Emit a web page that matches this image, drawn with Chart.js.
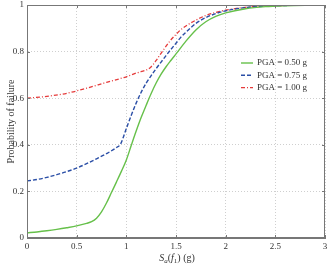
<!DOCTYPE html>
<html><head><meta charset="utf-8">
<script src="https://cdn.jsdelivr.net/npm/chart.js@4"></script>
<style>html,body{margin:0;padding:0;background:#fff}#wrap{width:330px;height:266px}</style>
</head><body><div id="wrap"><canvas id="c" width="330" height="266"></canvas></div>
<script>
const seriesLabels = ["PGA = 0.50 g", "PGA = 0.75 g", "PGA = 1.00 g"];
const xGreen = [0, 0.1, 0.2, 0.3, 0.4, 0.5, 0.6, 0.65, 0.7, 0.75, 0.8, 0.85, 0.9, 0.95, 1.0, 1.05, 1.1, 1.15, 1.2, 1.25, 1.3, 1.35, 1.4, 1.45, 1.5, 1.6, 1.7, 1.8, 1.9, 2.0, 2.2, 2.4, 2.6, 2.8, 3.0];
const yGreen = [0.022, 0.026, 0.031, 0.037, 0.044, 0.052, 0.063, 0.07, 0.085, 0.112, 0.15, 0.195, 0.24, 0.286, 0.335, 0.398, 0.46, 0.518, 0.57, 0.62, 0.665, 0.703, 0.735, 0.763, 0.79, 0.845, 0.893, 0.928, 0.951, 0.966, 0.984, 0.993, 0.997, 0.999, 1.0];
const xBlue = [0, 0.1, 0.2, 0.3, 0.4, 0.5, 0.6, 0.7, 0.8, 0.9, 0.94, 1.0, 1.05, 1.1, 1.15, 1.2, 1.25, 1.3, 1.35, 1.4, 1.45, 1.5, 1.55, 1.6, 1.7, 1.8, 1.9, 2.0, 2.2, 2.4, 2.6, 2.8, 3.0];
const yBlue = [0.245, 0.251, 0.26, 0.272, 0.285, 0.3, 0.319, 0.34, 0.362, 0.388, 0.402, 0.47, 0.527, 0.58, 0.626, 0.665, 0.697, 0.727, 0.755, 0.783, 0.81, 0.836, 0.862, 0.883, 0.921, 0.946, 0.963, 0.975, 0.989, 0.995, 0.998, 0.999, 1.0];
const xRed = [0, 0.2, 0.4, 0.6, 0.8, 1.0, 1.1, 1.24, 1.3, 1.34, 1.4, 1.44, 1.5, 1.54, 1.6, 1.7, 1.8, 1.9, 2.0, 2.2, 2.4, 2.6, 2.8, 3.0];
const yRed = [0.6, 0.608, 0.621, 0.643, 0.668, 0.692, 0.708, 0.731, 0.762, 0.787, 0.823, 0.846, 0.874, 0.891, 0.91, 0.935, 0.955, 0.968, 0.978, 0.99, 0.996, 0.998, 0.999, 1.0];
const xTicks = [0, 0.5, 1, 1.5, 2, 2.5, 3];
const yTicks = [0, 0.2, 0.4, 0.6, 0.8, 1];

const pts = (xs, ys) => xs.map((x, i) => ({x: x, y: ys[i]}));
const FONT = "'Liberation Serif', 'DejaVu Serif', serif";

const extras = {
  id: 'extras',
  afterDraw(chart) {
    const ctx = chart.ctx, a = chart.chartArea;
    const sx = chart.scales.x, sy = chart.scales.y;
    ctx.save();
    ctx.strokeStyle = '#777'; ctx.lineWidth = 1;
    ctx.strokeRect(Math.round(a.left) + 0.5, Math.round(a.top) + 0.5, Math.round(a.right - a.left) - 1, Math.round(a.bottom - a.top) - 1);
    ctx.beginPath();
    xTicks.forEach(v => {
      const px = Math.round(sx.getPixelForValue(v)) + 0.5;
      ctx.moveTo(px, a.bottom); ctx.lineTo(px, a.bottom - 3);
      ctx.moveTo(px, a.top); ctx.lineTo(px, a.top + 3);
    });
    yTicks.forEach(v => {
      const py = Math.round(sy.getPixelForValue(v)) + 0.5;
      ctx.moveTo(a.left, py); ctx.lineTo(a.left + 3, py);
      ctx.moveTo(a.right, py); ctx.lineTo(a.right - 3, py);
    });
    ctx.stroke();
    const ds = chart.data.datasets;
    const lx = 241, ly = 63, dy = 12.3;
    ds.forEach((d, i) => {
      const y = ly + i * dy;
      ctx.beginPath();
      ctx.setLineDash(d.borderDash || []);
      ctx.strokeStyle = d.borderColor; ctx.lineWidth = d.borderWidth;
      ctx.moveTo(lx, y); ctx.lineTo(lx + 12, y); ctx.stroke();
      ctx.setLineDash([]);
      ctx.fillStyle = '#333'; ctx.font = "9px " + FONT;
      ctx.textBaseline = 'middle'; ctx.textAlign = 'left';
      ctx.fillText(d.label, lx + 16, y);
    });
    ctx.save();
    ctx.translate(11, (a.top + a.bottom) / 2);
    ctx.rotate(-Math.PI / 2);
    ctx.font = "10px " + FONT; ctx.fillStyle = '#333';
    ctx.textAlign = 'center'; ctx.textBaseline = 'middle';
    ctx.fillText('Probability of failure', 0, 0);
    ctx.restore();
    const parts = [
      {t: 'S', f: "italic 10px " + FONT, dy: 0},
      {t: 'a', f: "italic 7px " + FONT, dy: 2},
      {t: '(', f: "10px " + FONT, dy: 0},
      {t: 'f', f: "italic 10px " + FONT, dy: 0},
      {t: '1', f: "7px " + FONT, dy: 2},
      {t: ') (g)', f: "10px " + FONT, dy: 0}
    ];
    let w = 0;
    parts.forEach(p => { ctx.font = p.f; w += ctx.measureText(p.t).width; });
    let x = (a.left + a.right) / 2 - w / 2 + 1;
    const by = 261;
    ctx.textAlign = 'left'; ctx.textBaseline = 'alphabetic'; ctx.fillStyle = '#333';
    parts.forEach(p => { ctx.font = p.f; ctx.fillText(p.t, x, by + p.dy); x += ctx.measureText(p.t).width; });
    ctx.restore();
  }
};

new Chart(document.getElementById('c'), {
  type: 'line',
  data: {
    datasets: [
      {label: seriesLabels[0], data: pts(xGreen, yGreen), borderColor: '#66c04a', borderWidth: 1.4, pointRadius: 0, cubicInterpolationMode: 'monotone', fill: false},
      {label: seriesLabels[1], data: pts(xBlue, yBlue), borderColor: '#2a4ea6', borderWidth: 1.4, borderDash: [4, 2], pointRadius: 0, cubicInterpolationMode: 'monotone', fill: false},
      {label: seriesLabels[2], data: pts(xRed, yRed), borderColor: '#e53a3a', borderWidth: 1.3, borderDash: [4, 2, 1, 2], pointRadius: 0, cubicInterpolationMode: 'monotone', fill: false}
    ]
  },
  options: {
    responsive: false, animation: false,
    layout: {padding: {top: 5, right: 5, left: 0, bottom: 0}},
    plugins: {legend: {display: false}, tooltip: {enabled: false}},
    scales: {
      x: {
        type: 'linear', min: 0, max: 3,
        afterBuildTicks: s => { s.ticks = xTicks.map(v => ({value: v})); },
        afterFit: s => { s.height = 28; s.paddingLeft = 0; s.paddingRight = 0; },
        grid: {color: '#cfcfcf', drawTicks: false, tickLength: 0},
        border: {color: '#777', dash: [1, 2]},
        ticks: {color: '#333', font: {family: FONT, size: 9}, padding: 3, maxRotation: 0, callback: v => String(v)}
      },
      y: {
        type: 'linear', min: 0, max: 1,
        afterBuildTicks: s => { s.ticks = yTicks.map(v => ({value: v})); },
        afterFit: s => { s.width = 27; s.paddingTop = 0; s.paddingBottom = 0; },
        grid: {color: '#cfcfcf', drawTicks: false, tickLength: 0},
        border: {color: '#777', dash: [1, 2]},
        ticks: {color: '#333', font: {family: FONT, size: 9}, padding: 3, callback: v => String(v)}
      }
    }
  },
  plugins: [extras]
});
</script></body></html>
